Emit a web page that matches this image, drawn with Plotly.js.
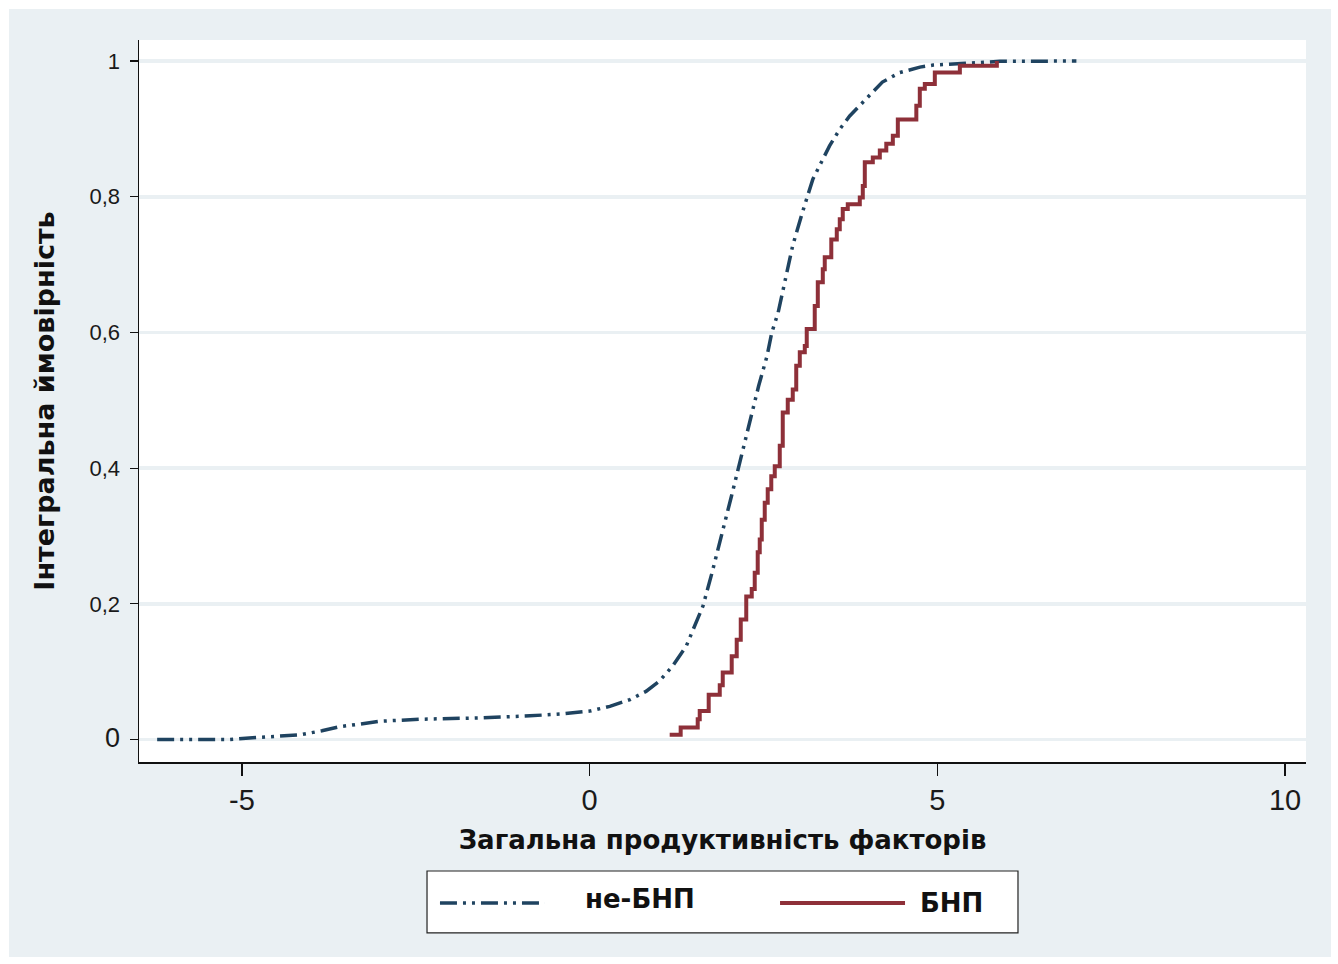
<!DOCTYPE html>
<html>
<head>
<meta charset="utf-8">
<script src="https://cdn.plot.ly/plotly-3.0.1.min.js"></script>
<style>
  html, body { margin: 0; padding: 0; background: #ffffff; }
  #chart { position: absolute; left: 9px; top: 9px; width: 1322px; height: 948px; }
</style>
</head>
<body>
<div id="chart"></div>
<script>
// ---- data ----
const seriesNames = ["не-БНП", "БНП"];

// non-BNP empirical cumulative distribution (smooth, many observations)
const nonBnpX = [-6.22, -5.18, -4.80, -4.45, -4.17, -3.85, -3.60, -3.30, -3.02, -2.45, -1.58, -0.86, -0.39,
                 0.00, 0.29, 0.58, 0.81, 1.00, 1.19, 1.39, 1.53, 1.63, 1.76, 1.90, 2.04, 2.17, 2.31, 2.43,
                 2.55, 2.62, 2.71, 2.81, 2.92, 3.06, 3.21, 3.45, 3.60, 3.74, 3.98, 4.21, 4.46, 4.75, 4.94,
                 5.28, 5.66, 5.90, 7.00];
const nonBnpY = [0.000, 0.000, 0.003, 0.005, 0.007, 0.013, 0.019, 0.023, 0.027, 0.030, 0.032, 0.035, 0.038,
                 0.042, 0.049, 0.059, 0.071, 0.086, 0.108, 0.138, 0.172, 0.197, 0.246, 0.300, 0.359, 0.413,
                 0.472, 0.521, 0.565, 0.600, 0.629, 0.678, 0.728, 0.777, 0.826, 0.875, 0.900, 0.919, 0.944,
                 0.969, 0.983, 0.991, 0.994, 0.996, 0.998, 0.9996, 1.000];

// BNP empirical cumulative distribution (step function)
const bnpX = [1.151, 1.309, 1.554, 1.583, 1.712, 1.871, 1.914, 2.043, 2.115, 2.173, 2.252, 2.331, 2.374,
              2.417, 2.446, 2.475, 2.518, 2.561, 2.612, 2.662, 2.734, 2.777, 2.849, 2.921, 2.971, 3.022,
              3.094, 3.122, 3.237, 3.281, 3.353, 3.381, 3.475, 3.554, 3.597, 3.640, 3.712, 3.885, 3.928,
              3.957, 4.072, 4.173, 4.266, 4.360, 4.432, 4.698, 4.748, 4.820, 4.964, 5.324, 5.856];
const bnpY = [0.007, 0.018, 0.030, 0.042, 0.066, 0.080, 0.099, 0.123, 0.147, 0.177, 0.211, 0.222, 0.246,
              0.276, 0.295, 0.324, 0.349, 0.369, 0.388, 0.403, 0.433, 0.482, 0.501, 0.516, 0.551, 0.571,
              0.580, 0.605, 0.639, 0.674, 0.693, 0.711, 0.737, 0.752, 0.767, 0.782, 0.789, 0.799, 0.816,
              0.851, 0.858, 0.868, 0.878, 0.890, 0.914, 0.934, 0.959, 0.966, 0.983, 0.993, 1.000];

const yTickVals = [0, 0.2, 0.4, 0.6, 0.8, 1];
const yTickText = ['<span style="font-size:27px">0</span>', '0,2', '0,4', '0,6', '0,8', '1'];
const xTickVals = [-5, 0, 5, 10];
const xTickText = ['-5', '0', '5', '10'];

const xTitle = "Загальна продуктивність факторів";
const yTitle = "Інтегральна ймовірність";

// ---- styling ----
const navy = '#1f4360';
const maroon = '#8e3039';
const dashPattern = '17px,6px,3px,6px,3px,6px';
const font = 'Liberation Sans, Arial, sans-serif';
const boldFont = 'DejaVu Sans, Liberation Sans, sans-serif';

const traces = [
  { x: nonBnpX, y: nonBnpY, type: 'scatter', mode: 'lines', name: seriesNames[0],
    line: { color: navy, width: 3.5, dash: dashPattern, shape: 'linear' }, showlegend: false },
  { x: bnpX, y: bnpY, type: 'scatter', mode: 'lines', name: seriesNames[1],
    line: { color: maroon, width: 4, shape: 'hv' }, showlegend: false }
];

// legend drawn in paper coordinates (decoration only)
const lgBox = { x0: 0.2468, x1: 0.7532, y0: -0.2368, y1: -0.151 };
const lgY = -0.1953;
const shapes = [
  { type: 'rect', xref: 'paper', yref: 'paper', x0: lgBox.x0, x1: lgBox.x1, y0: lgBox.y0, y1: lgBox.y1,
    line: { color: '#222', width: 1.2 }, fillcolor: '#ffffff', layer: 'below' },
  { type: 'line', xref: 'paper', yref: 'paper', x0: 0.2579, x1: 0.3479, y0: lgY, y1: lgY,
    line: { color: navy, width: 3.5, dash: dashPattern } },
  { type: 'line', xref: 'paper', yref: 'paper', x0: 0.5493, x1: 0.6564, y0: lgY, y1: lgY,
    line: { color: maroon, width: 4 } }
];
const annotations = [
  { xref: 'paper', yref: 'paper', x: 0.3805, y: lgY + 0.006, xanchor: 'left', yanchor: 'middle',
    text: '<b>' + seriesNames[0] + '</b>', showarrow: false, font: { family: boldFont, size: 26, color: '#111' } },
  { xref: 'paper', yref: 'paper', x: 0.6675, y: lgY, xanchor: 'left', yanchor: 'middle',
    text: '<b>' + seriesNames[1] + '</b>', showarrow: false, font: { family: boldFont, size: 26, color: '#111' } }
];

const layout = {
  width: 1322, height: 948,
  paper_bgcolor: '#eaf0f3',
  plot_bgcolor: '#ffffff',
  margin: { l: 130, r: 25, t: 31, b: 195 },
  font: { family: font, color: '#1a1a1a' },
  showlegend: false,
  xaxis: {
    range: [-6.481, 10.302],
    tickvals: xTickVals, ticktext: xTickText,
    ticks: 'outside', ticklen: 12, tickwidth: 1.5, tickcolor: '#111',
    tickfont: { size: 29, family: font, color: '#1a1a1a' },
    showgrid: false, zeroline: false,
    showline: true, linecolor: '#111', linewidth: 1.5,
    title: { text: '<b>' + xTitle + '</b>', font: { size: 26, family: boldFont, color: '#111' }, standoff: 15 }
  },
  yaxis: {
    range: [-0.033, 1.031],
    tickvals: yTickVals, ticktext: yTickText,
    ticks: 'outside', ticklen: 8, tickwidth: 1.2, tickcolor: '#111',
    tickfont: { size: 22, family: font, color: '#1a1a1a' },
    ticklabelstandoff: 5,
    showgrid: true, gridcolor: '#eaf0f3', gridwidth: 3.5,
    zeroline: false,
    showline: true, linecolor: '#111', linewidth: 1.5,
    title: { text: '<b>' + yTitle + '</b>', font: { size: 27, family: boldFont, color: '#111' }, standoff: 27 }
  },
  shapes: shapes,
  annotations: annotations
};

Plotly.newPlot('chart', traces, layout, { displayModeBar: false, staticPlot: true });
</script>
</body>
</html>
